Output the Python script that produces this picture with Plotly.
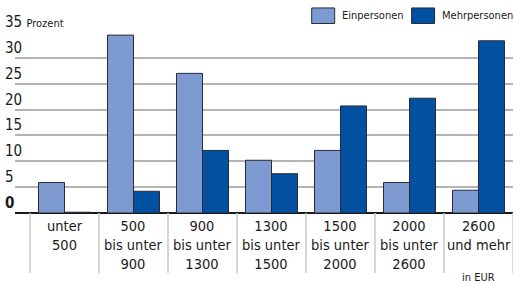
import plotly.graph_objects as go

categories = ["unter<br>500", "500<br>bis unter<br>900", "900<br>bis unter<br>1300",
              "1300<br>bis unter<br>1500", "1500<br>bis unter<br>2000",
              "2000<br>bis unter<br>2600", "2600<br>und mehr"]
einpersonen = [5.9, 34.4, 27.0, 10.2, 12.1, 5.9, 4.4]
mehrpersonen = [0.15, 4.2, 12.1, 7.6, 20.7, 22.2, 33.3]
y_ticks = [0, 5, 10, 15, 20, 25, 30, 35]
y_tick_labels = ["<b>0</b>", "5", "10", "15", "20", "25", "30",
                 "35 <span style='font-size:11px'>Prozent</span>"]
series_names = ["Einpersonen", "Mehrpersonen"]

FONT = "Liberation Sans Narrow, DejaVu Sans Condensed, Roboto Condensed, Arial Narrow, sans-serif"
LIGHT = "#7d9bd0"
DARK = "#0250a0"
W, H = 514, 284
ML, MR, MT, MB = 15, 0.5, 32, 71.3

x_idx = list(range(len(categories)))

fig = go.Figure()
fig.add_trace(go.Bar(x=x_idx, y=einpersonen, name=series_names[0], marker_color=LIGHT,
                     marker_line=dict(color="#2a2a3a", width=1)))
fig.add_trace(go.Bar(x=x_idx, y=mehrpersonen, name=series_names[1], marker_color=DARK,
                     marker_line=dict(color="#2a2a3a", width=1)))

pw = W - ML - MR
cat_w = 69.0
x_start = -0.5 - 15.0 / cat_w
x_end = len(categories) - 0.5

fig.update_layout(
    width=W, height=H,
    margin=dict(l=ML, r=MR, t=MT, b=MB),
    paper_bgcolor="white", plot_bgcolor="white",
    barmode="group", bargap=0.246, bargroupgap=0,
    showlegend=False,
    font=dict(family=FONT, size=15, color="#1a1a1a"),
    xaxis=dict(range=[x_start, x_end], showticklabels=False, showgrid=False,
               zeroline=False, showline=False, ticks=""),
    yaxis=dict(range=[0, 35], tickvals=y_ticks, showticklabels=False,
               showgrid=True, gridcolor="#b4b4b4", gridwidth=2,
               zeroline=True, zerolinecolor="#1a1a1a", zerolinewidth=2,
               showline=False, ticks=""),
)

annotations = []
shapes = []
# y tick labels above gridlines
for v, t in zip(y_ticks, y_tick_labels):
    annotations.append(dict(x=0, xref="paper", y=v, yref="y", text=t, showarrow=False,
                            xanchor="left", yanchor="bottom", xshift=-12, yshift=-1,
                            font=dict(size=15)))
# category labels
for i, c in enumerate(categories):
    annotations.append(dict(x=i, xref="x", y=0, yref="paper", text=c, showarrow=False,
                            xanchor="center", yanchor="top", yshift=-3,
                            font=dict(size=14.5)))
# separators
for i in range(len(categories) + 1):
    shapes.append(dict(type="line", xref="x", yref="paper", x0=i - 0.5, x1=i - 0.5,
                       y0=0, y1=-60 / (H - MT - MB), line=dict(color="#c8c8c8", width=1.5)))
annotations.append(dict(x=6, xref="x", y=0, yref="paper", text="in EUR", showarrow=False,
                        xanchor="center", yanchor="top", yshift=-56, font=dict(size=11)))

# manual legend
plot_h = H - MT - MB
def px_x(px):
    return (px - ML) / pw
def px_y(py):
    return (H - MB - py) / plot_h
legend_items = [(312, LIGHT, series_names[0]), (412, DARK, series_names[1])]
for lx, col, name in legend_items:
    shapes.append(dict(type="rect", xref="paper", yref="paper",
                       x0=px_x(lx), x1=px_x(lx + 23), y0=px_y(23.5), y1=px_y(8),
                       fillcolor=col, line=dict(color="#2a2a3a", width=1)))
    annotations.append(dict(x=px_x(lx + 28), xref="paper", y=px_y(15.5), yref="paper",
                            text=name, showarrow=False, xanchor="left", yanchor="middle",
                            font=dict(size=11)))

fig.update_layout(annotations=annotations, shapes=shapes)
fig.write_html("out.html", config={"displayModeBar": False},
               post_script="document.body.style.margin='0';")
